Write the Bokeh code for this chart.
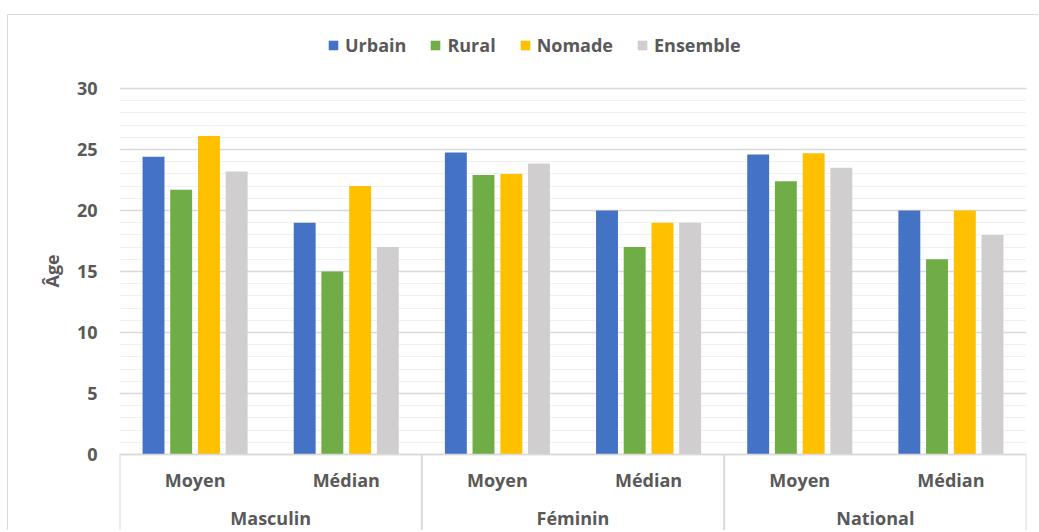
from bokeh.plotting import figure
from bokeh.models import (FactorRange, Range1d, ColumnDataSource, Legend, LegendItem,
                          FixedTicker, Title, CategoricalAxis)
from bokeh.transform import dodge
from bokeh.embed import file_html
from bokeh.resources import INLINE

# ---- data ----
groups = ["Masculin", "Féminin", "National"]
stats = ["Moyen", "Médian"]
series = ["Urbain", "Rural", "Nomade", "Ensemble"]
urbain = [24.4, 19.0, 24.75, 20.0, 24.6, 20.0]
rural = [21.7, 15.0, 22.9, 17.0, 22.4, 16.0]
nomade = [26.1, 22.0, 23.0, 19.0, 24.7, 20.0]
ensemble = [23.2, 17.0, 23.85, 19.0, 23.5, 18.0]
y_ticks = [0, 5, 10, 15, 20, 25, 30]
y_minor = list(range(0, 31))

# ---- style ----
colors = ["#4472C4", "#70AD47", "#FFC000", "#D0CECE"]
offsets = [-0.275, -0.092, 0.092, 0.275]
FONT = "Open Sans"
TXT = "#595959"
FS = "18px"
GRID = "#d9d9d9"

factors = [(g, s) for g in groups for s in stats]
x_range = FactorRange(*factors, factor_padding=0, group_padding=0, range_padding=0)

# page px layout of the frame: canvas 15..531, value 30 at 88, value 0 at 454
PX = (454 - 88) / 30.0
y_end = 30 + (88 - 15) / PX
y_start = -(531 - 454) / PX

p = figure(x_range=x_range, y_range=Range1d(y_start, y_end), width=1031, height=516,
           output_backend="svg", toolbar_location=None,
           min_border_left=111, min_border_right=13, min_border_top=0, min_border_bottom=0)
p.styles = {"border-left": "1px solid #d9d9d9", "border-top": "1px solid #d9d9d9",
            "margin-top": "14px", "margin-left": "7px"}
p.outline_line_color = None
p.background_fill_color = "white"
p.border_fill_color = "white"

p.xgrid.grid_line_color = None
p.ygrid.ticker = FixedTicker(ticks=y_ticks, minor_ticks=y_minor)
p.ygrid.grid_line_color = GRID
p.ygrid.grid_line_width = 1.5
p.ygrid.minor_grid_line_color = "#f0f0f0"
p.ygrid.minor_grid_line_width = 1

src = ColumnDataSource(dict(x=factors, Urbain=urbain, Rural=rural, Nomade=nomade, Ensemble=ensemble))
renderers = []
for name, col, off in zip(series, colors, offsets):
    r = p.vbar(x=dodge("x", off, range=p.x_range), top=name, bottom=0, width=0.145,
               source=src, fill_color=col, line_color=None)
    renderers.append(r)

# category box lines
sep_x = [i * len(stats) for i in range(len(groups) + 1)]
p.segment(x0=sep_x, y0=[0] * len(sep_x), x1=sep_x, y1=[y_start] * len(sep_x),
          line_color=GRID, line_width=2)

# y axis
ya = p.yaxis[0]
ya.ticker = FixedTicker(ticks=y_ticks)
ya.axis_line_color = None
ya.major_tick_line_color = None
ya.minor_tick_line_color = None
ya.major_tick_out = 0
ya.major_tick_in = 0
ya.minor_tick_out = 0
ya.major_label_standoff = 22
ya.major_label_text_font = FONT
ya.major_label_text_font_size = FS
ya.major_label_text_font_style = "bold"
ya.major_label_text_color = TXT

# x axis (subcategories) fixed at y = 0
xa = p.xaxis[0]
xa.fixed_location = 0
xa.axis_line_color = GRID
xa.axis_line_width = 1.5
xa.major_tick_line_color = None
xa.minor_tick_line_color = None
xa.major_tick_out = 0
xa.major_tick_in = 0
xa.major_label_standoff = 13
xa.major_label_text_font = FONT
xa.major_label_text_font_size = FS
xa.major_label_text_font_style = "bold"
xa.major_label_text_color = TXT
xa.group_text_color = None
xa.separator_line_color = None

# group axis
p.extra_x_ranges = {"groups": FactorRange(*groups, range_padding=0)}
ga = CategoricalAxis(x_range_name="groups", fixed_location=0)
ga.axis_line_color = None
ga.major_tick_line_color = None
ga.minor_tick_line_color = None
ga.major_tick_out = 0
ga.major_tick_in = 0
ga.major_label_standoff = 51
ga.major_label_text_font = FONT
ga.major_label_text_font_size = FS
ga.major_label_text_font_style = "bold"
ga.major_label_text_color = TXT
p.add_layout(ga, "below")

# y title
p.add_layout(Title(text="Âge", align="left", offset=244, standoff=20, text_font=FONT,
                   text_font_size=FS, text_font_style="bold", text_color=TXT), "left")

legend = Legend(items=[LegendItem(label=n, renderers=[r]) for n, r in zip(series, renderers)],
                orientation="horizontal", location=(208, 474), glyph_width=12, glyph_height=12,
                label_standoff=6, spacing=23, padding=0, margin=0, border_line_color=None,
                background_fill_alpha=0,
                label_text_font=FONT, label_text_font_size=FS, label_text_font_style="bold",
                label_text_color=TXT)
p.add_layout(legend, "center")

open("out.html", "w").write(file_html(p, INLINE))
